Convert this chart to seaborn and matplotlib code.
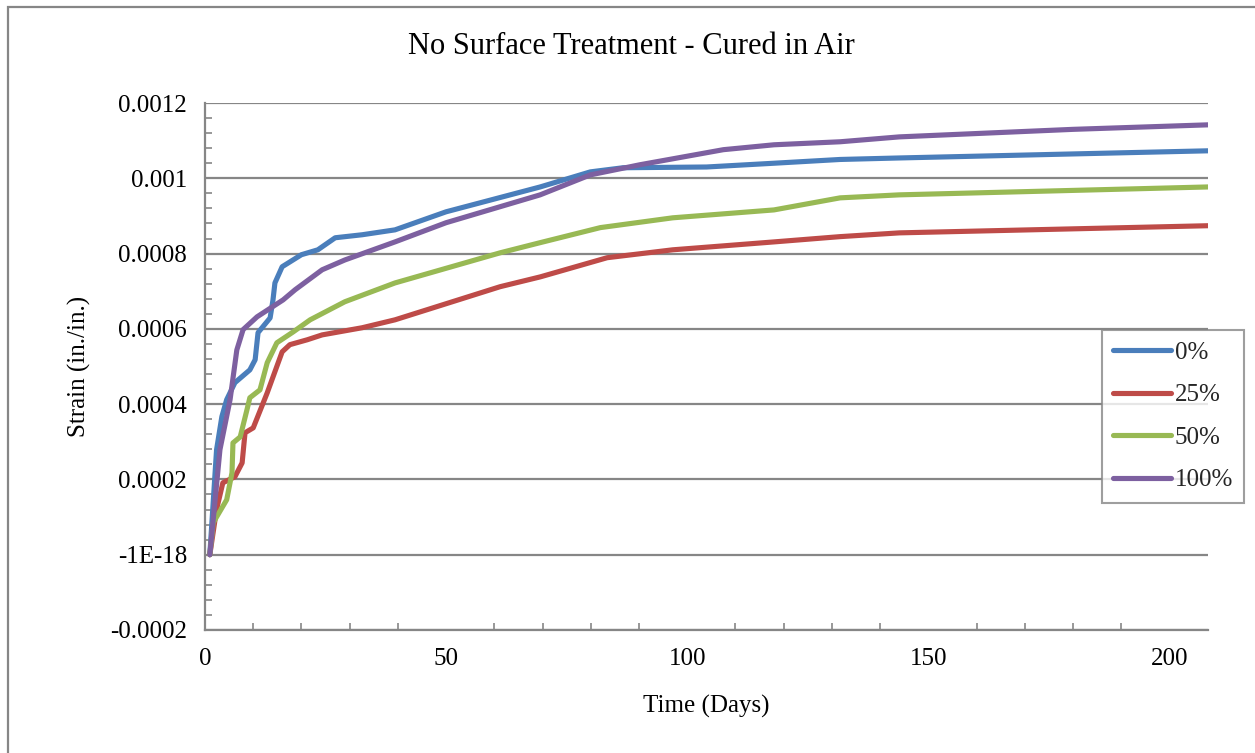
import numpy as np
import pandas as pd
import matplotlib
matplotlib.use("Agg")
import matplotlib.pyplot as plt
import seaborn as sns
from matplotlib.ticker import MultipleLocator, FixedLocator, FixedFormatter
from matplotlib.patches import Rectangle

# ---- data ----
days_0 = [1, 2.4, 3.5, 4.5, 6.2, 9.3, 10.4, 11.0, 13.5, 14.1, 14.5, 16, 20, 23.4, 27,
          32.6, 39.4, 50, 69.5, 79.9, 86.7, 104, 118, 131.7, 144, 208]
strain_0 = [0, 0.000279, 0.000367, 0.000412, 0.000457, 0.000491, 0.000518, 0.00059,
            0.000629, 0.000677, 0.000722, 0.000765, 0.000797, 0.00081, 0.000842,
            0.00085, 0.000863, 0.000911, 0.000977, 0.001017, 0.001028, 0.00103,
            0.00104, 0.00105, 0.001054, 0.001073]

days_25 = [1, 2.4, 3.7, 6.2, 7.7, 8.3, 10, 12.9, 16, 17.6, 21.2, 24.3, 32.6, 39.4,
           61.2, 69.5, 83.4, 97, 118, 131.7, 144, 208]
strain_25 = [0, 0.00012, 0.000191, 0.000207, 0.000244, 0.000324, 0.000337, 0.00043,
             0.000539, 0.000558, 0.000571, 0.000584, 0.000603, 0.000624,
             0.000712, 0.000738, 0.000789, 0.00081, 0.000831, 0.000845, 0.000855, 0.000874]

days_50 = [1, 1.7, 4.5, 5.6, 5.8, 7.3, 8.7, 9.3, 11.4, 12.9, 14.9, 18.3, 21.8, 29, 39.4,
           61.2, 69.5, 82, 97, 118, 131.7, 144, 208]
strain_50 = [0, 0.000085, 0.000146, 0.000218, 0.000297, 0.000313, 0.000385, 0.000417,
             0.000438, 0.00051, 0.000563, 0.000592, 0.000624, 0.000672, 0.000722,
             0.000802, 0.000829, 0.000869, 0.000895, 0.000916, 0.000948, 0.000956, 0.000977]

days_100 = [1, 3.1, 5.2, 6.6, 7.9, 10.8, 16.2, 18.7, 24.3, 29, 39.4, 50,
            69.5, 79.9, 90.2, 107.5, 118, 131.7, 144, 180, 208]
strain_100 = [0, 0.000279, 0.000412, 0.000544, 0.000598, 0.000632, 0.000677, 0.000704,
              0.000757, 0.000783, 0.000831, 0.000882, 0.000956, 0.001009, 0.001036,
              0.001076, 0.001089, 0.001097, 0.00111, 0.00113, 0.001142]

series_names = ["0%", "25%", "50%", "100%"]
colors = ["#4A7EBB", "#BE4B48", "#98B954", "#7D60A0"]

y_ticks = [-0.0002, 0.0, 0.0002, 0.0004, 0.0006, 0.0008, 0.001, 0.0012]
y_tick_labels = ["-0.0002", "-1E-18", "0.0002", "0.0004", "0.0006", "0.0008", "0.001", "0.0012"]
x_ticks = [0, 50, 100, 150, 200]

title = "No Surface Treatment - Cured in Air"
xlabel = "Time (Days)"
ylabel = "Strain (in./in.)"

frames = []
for name, d, s in zip(series_names, [days_0, days_25, days_50, days_100],
                      [strain_0, strain_25, strain_50, strain_100]):
    frames.append(pd.DataFrame({"Days": d, "Strain": s, "Series": name}))
df = pd.concat(frames, ignore_index=True)

# ---- plot ----
sns.set_theme(style="white")
plt.rcParams['font.family'] = ['Liberation Serif', 'DejaVu Serif']

fig = plt.figure(figsize=(12.55, 7.53), dpi=100)
ax = fig.add_axes([205/1255, 1-630/753, (1208-205)/1255, (630-103)/753])

grey = "#868686"
lw = 3.7

sns.lineplot(data=df, x="Days", y="Strain", hue="Series", hue_order=series_names,
             palette=colors, estimator=None, sort=False, linewidth=lw, ax=ax,
             legend=True, zorder=3)
for line in ax.get_lines():
    line.set_solid_joinstyle("round")
    line.set_solid_capstyle("round")

ax.set_xlim(0, 208)
ax.set_ylim(-0.0002, 0.0012)

ax.yaxis.set_major_locator(FixedLocator(y_ticks))
ax.yaxis.set_major_formatter(FixedFormatter(y_tick_labels))
ax.yaxis.set_minor_locator(MultipleLocator(0.00004))
ax.xaxis.set_major_locator(FixedLocator(x_ticks))
ax.xaxis.set_minor_locator(MultipleLocator(10))

ax.grid(axis="y", which="major", color=grey, linewidth=1.6, zorder=0)
ax.grid(axis="x", visible=False)
ax.set_axisbelow(True)

for sp in ["top", "right"]:
    ax.spines[sp].set_visible(False)
for sp in ["left", "bottom"]:
    ax.spines[sp].set_color(grey)
    ax.spines[sp].set_linewidth(1.6)

ax.tick_params(axis="both", which="major", direction="inout", length=10, width=1.4,
               color=grey, labelsize=18, labelcolor="black", pad=8)
ax.tick_params(axis="both", which="minor", direction="in", length=5, width=1.2,
               color=grey)
ax.tick_params(axis="y", which="minor", left=True)
ax.tick_params(axis="x", which="minor", bottom=True)

ax.set_xlabel(xlabel, fontsize=18, color="black", labelpad=18)
ax.set_ylabel(ylabel, fontsize=18, color="black", labelpad=14)
fig.text(631/1255, 1-47/753, title, fontsize=22, ha="center", va="center", color="black")

handles, labels = ax.get_legend_handles_labels()
leg = ax.legend(handles, labels, loc="upper left",
                bbox_to_anchor=(1102/1255, 1-330/753), bbox_transform=fig.transFigure,
                fontsize=18, frameon=True, fancybox=False, handlelength=2.3,
                handletextpad=0.15, labelspacing=0.8, borderpad=0.45,
                borderaxespad=0)
leg.get_frame().set_edgecolor(grey)
leg.get_frame().set_linewidth(1.5)
leg.get_frame().set_facecolor("white")
leg.set_zorder(5)
for l in leg.get_lines():
    l.set_linewidth(lw)
    l.set_solid_capstyle("round")

# outer chart border (cropped at right and bottom as in the reference)
fig.patches.append(Rectangle((8/1255, -0.1), 1.2, 1-7/753 + 0.1, transform=fig.transFigure,
                             fill=False, edgecolor=grey, linewidth=1.6))

fig.savefig("out.png", dpi=100)
